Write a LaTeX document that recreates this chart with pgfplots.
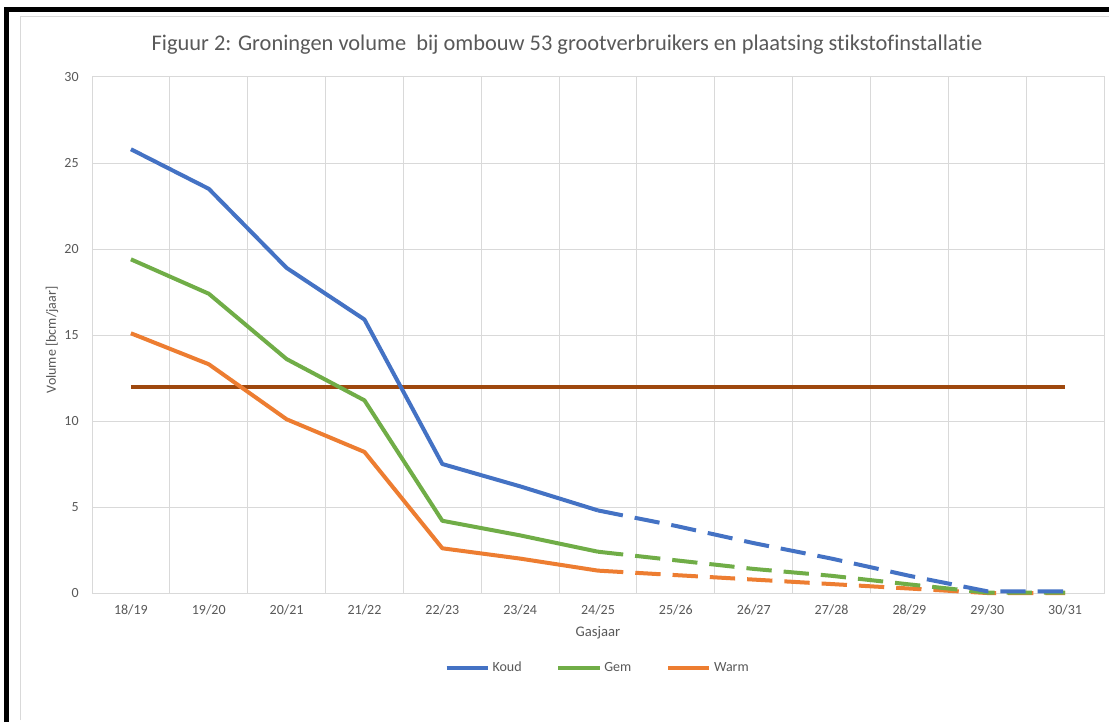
\documentclass[border=0pt]{standalone}
\usepackage{pgfplots}
\pgfplotsset{compat=1.18}
\usepackage{fontspec}
\setmainfont[Ligatures=NoCommon]{Carlito}

\definecolor{koud}{HTML}{4472C4}
\definecolor{gem}{HTML}{70AD47}
\definecolor{warm}{HTML}{ED7D31}
\definecolor{grens}{HTML}{9E480E}
\definecolor{txt}{HTML}{595959}
\definecolor{gridc}{HTML}{D9D9D9}

\begin{document}
\begin{tikzpicture}[x=0.75pt,y=0.75pt]
% picture is 1109 x 722 px, 1 px = 0.75pt
\useasboundingbox (0,0) rectangle (1109,722);
\fill[white] (0,0) rectangle (1109,722);
\draw[gridc, line width=0.75pt] (20,2) -- (20,705) -- (1109,705);
\draw[black, line width=3.75pt] (6.5,0) -- (6.5,712) -- (1109,712);

\node[txt, font=\fontsize{16.8}{19}\selectfont] at (567,677) {Figuur 2: Groningen volume\ \ bij ombouw 53 grootverbruikers en plaatsing stikstofinstallatie};
\node[txt, rotate=90, font=\fontsize{10.5}{12}\selectfont] at (52,382) {Volume [bcm/jaar]};

\begin{axis}[
    at={(69pt,96.75pt)}, anchor=south west,
    width=759pt, height=387pt, scale only axis,
    xmin=0, xmax=13, ymin=0, ymax=30,
    xtick={0.5,1.5,...,12.5},
    xticklabels={18/19,19/20,20/21,21/22,22/23,23/24,24/25,25/26,26/27,27/28,28/29,29/30,30/31},
    minor xtick={0,1,...,13},
    ytick={0,5,...,30},
    xminorgrids, ymajorgrids,
    major tick length=0pt, minor tick length=0pt,
    grid style={gridc, line width=0.75pt},
    minor grid style={gridc, line width=0.75pt},
    axis line style={gridc, line width=0.75pt},
    tick label style={txt, font=\fontsize{10.5}{12}\selectfont},
    /pgf/number format/assume math mode=true,
    yticklabel style={xshift=-6.5pt},
    xticklabel style={yshift=-5pt},
    xlabel={Gasjaar},
    xlabel style={txt, font=\fontsize{11}{13}\selectfont, yshift=-2pt},
    legend columns=3,
    legend style={at={(0.5,-0.145)}, anchor=center, draw=none, fill=none,
        font=\fontsize{10.5}{12}\selectfont, text=txt,
        /tikz/every even column/.append style={column sep=24pt}},
    legend image code/.code={\draw[#1, line width=3pt] (0pt,0pt) -- (31pt,0pt);},
    clip=false,
]
\addplot[grens, line width=3pt, forget plot] coordinates {(0.5,12) (12.5,12)};

\addplot[koud, line width=3pt, line join=round] coordinates {
(0.5,25.8) (1.5,23.5) (2.5,18.9) (3.5,15.9) (4.5,7.5) (5.5,6.2) (6.5,4.8)};
\addlegendentry{Koud}
\addplot[gem, line width=3pt, line join=round] coordinates {
(0.5,19.4) (1.5,17.4) (2.5,13.6) (3.5,11.2) (4.5,4.2) (5.5,3.35) (6.5,2.4)};
\addlegendentry{Gem}
\addplot[warm, line width=3pt, line join=round] coordinates {
(0.5,15.1) (1.5,13.3) (2.5,10.1) (3.5,8.2) (4.5,2.6) (5.5,2.0) (6.5,1.3)};
\addlegendentry{Warm}

\addplot[warm, line width=3pt, dash pattern=on 19pt off 9pt, forget plot] coordinates {
(6.5,1.3) (7.5,1.04) (8.5,0.78) (9.5,0.52) (10.5,0.26) (11.5,0) (12.5,0)};
\addplot[gem, line width=3pt, dash pattern=on 19pt off 9pt, forget plot] coordinates {
(6.5,2.4) (7.5,1.9) (8.5,1.4) (9.5,1.0) (10.5,0.5) (11.5,0.02) (12.5,0.02)};
\addplot[koud, line width=3pt, dash pattern=on 19pt off 9pt, forget plot] coordinates {
(6.5,4.8) (7.5,3.9) (8.5,2.9) (9.5,2.0) (10.5,1.0) (11.5,0.1) (12.5,0.1)};
\end{axis}
\end{tikzpicture}
\end{document}
